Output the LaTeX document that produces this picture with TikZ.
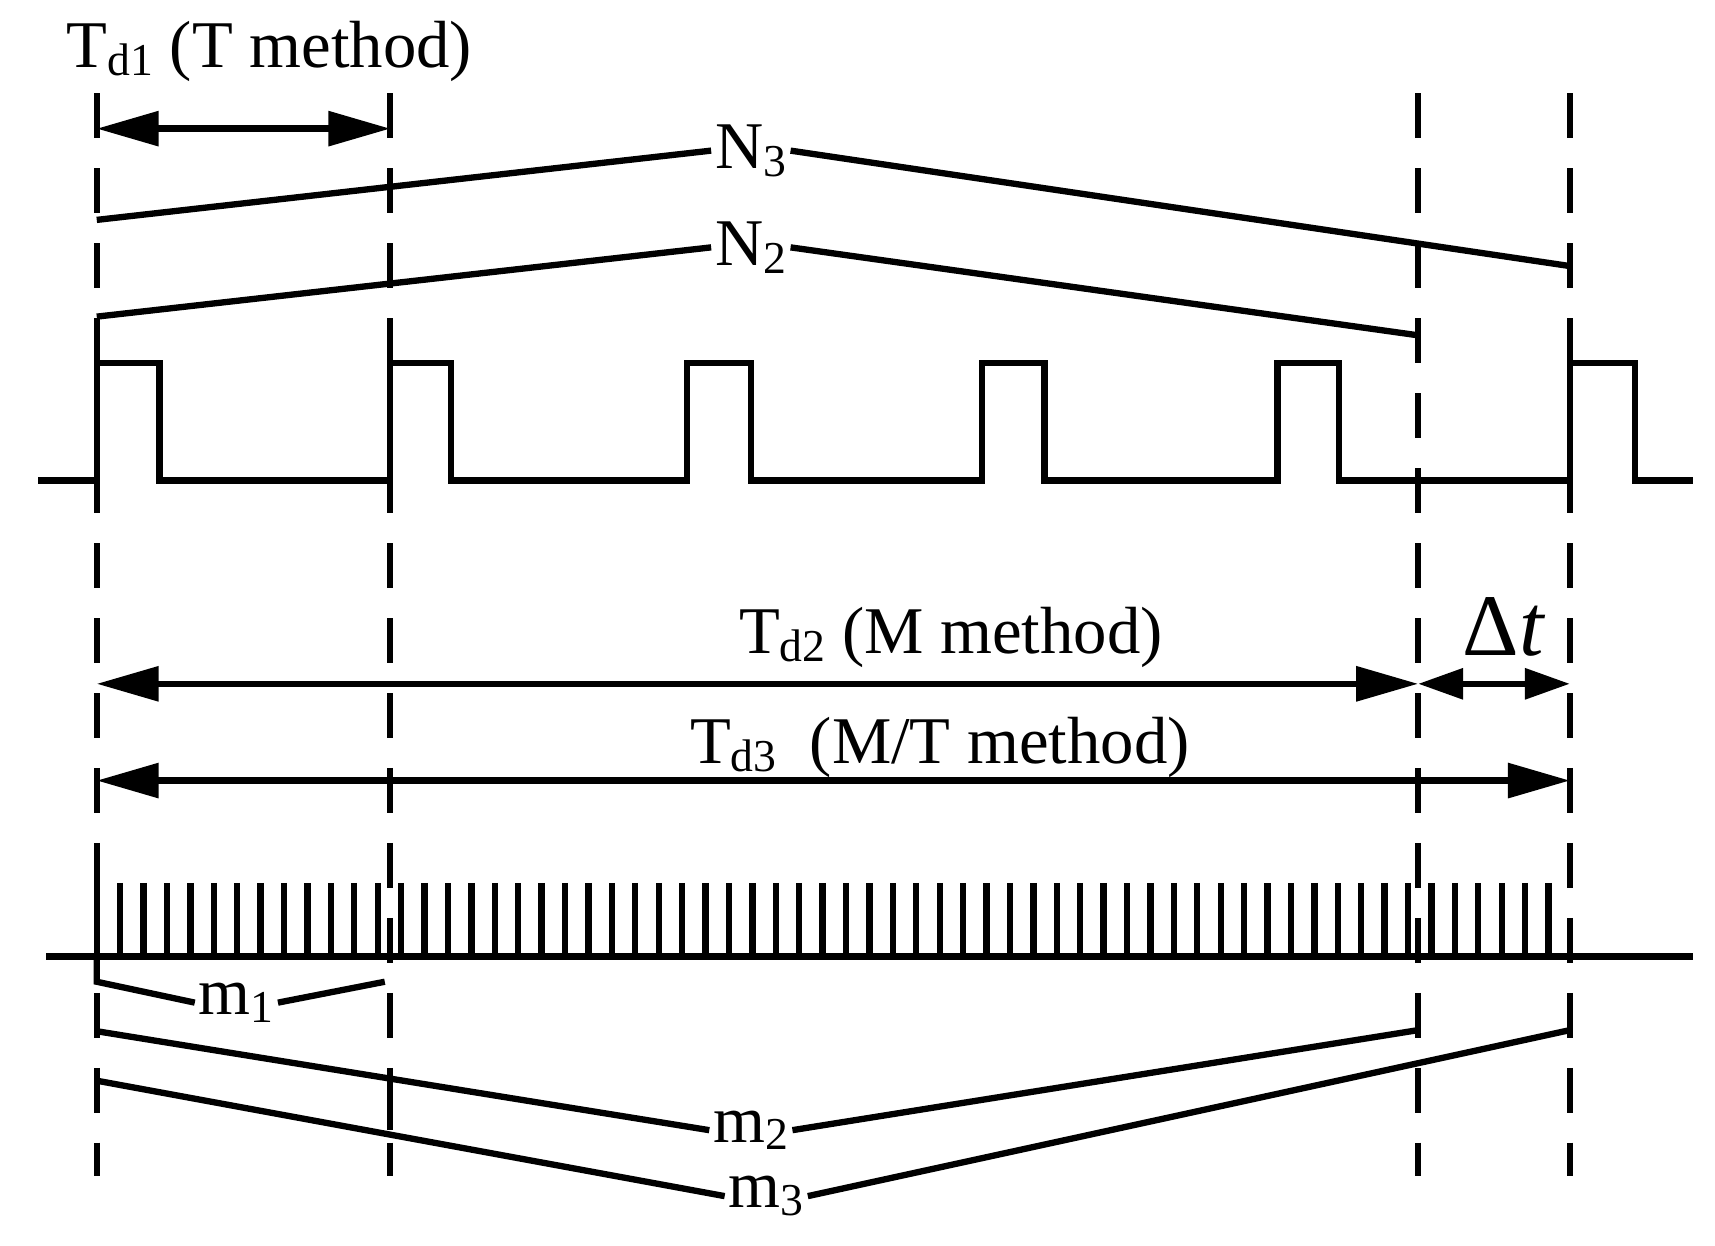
\documentclass[tikz,border=0pt]{standalone}
\usepackage{fontspec}
\setmainfont{Liberation Serif}
\usetikzlibrary{arrows.meta}
\newcommand{\sbs}[1]{\raisebox{-0.25ex}{\fontsize{13}{14}\selectfont #1}}
\begin{document}
\begin{tikzpicture}[x=0.011cm,y=-0.011cm,
  ln/.style={line width=1.8pt},
  dsh/.style={line width=1.8pt,dash pattern=on 0.45cm off 0.3cm},
  arr/.style={line width=1.8pt,{Triangle[length=0.62cm,width=0.34cm]}-{Triangle[length=0.62cm,width=0.34cm]}},
  lbl/.style={font=\fontsize{19}{22}\selectfont,inner sep=1pt}]
\useasboundingbox (0,0) rectangle (1560,1133);
% dashed verticals
\foreach \x/\n in {88/A,355/B,1290/C,1428/D}{
  \coordinate (\n t) at (\x,85); \coordinate (\n b) at (\x,1070);
  \draw[dsh] (\n t) -- (\n b);}
% pulse train
\draw[ln] (35,437) -- (88,437) -- (88,330) -- (145,330) -- (145,437) -- (355,437) -- (355,330) -- (410,330) -- (410,437)
  -- (625,437) -- (625,330) -- (683,330) -- (683,437) -- (893,437) -- (893,330) -- (950,330) -- (950,437)
  -- (1162,437) -- (1162,330) -- (1218,330) -- (1218,437) -- (1428,437) -- (1428,330) -- (1487,330) -- (1487,437) -- (1540,437);
% Td1
\node[lbl] (td1) at (245,47) {T\sbs{d1} (T method)};
\coordinate (a1) at (88,117); \coordinate (b1) at (355,117);
\draw[arr] (a1) -- (b1);
% N3, N2
\node[lbl] (n3) at (683,137) {N\sbs{3}};
\coordinate (n3a) at (88,200); \coordinate (n3b) at (1428,242);
\draw[ln] (n3a) -- (n3.west); \draw[ln] (n3.east) -- (n3b);
\draw[ln] (1428,228) -- (1428,256);
\node[lbl] (n2) at (683,225) {N\sbs{2}};
\coordinate (n2a) at (88,288); \coordinate (n2b) at (1290,305);
\draw[ln] (n2a) -- (n2.west); \draw[ln] (n2.east) -- (n2b);
\draw[ln] (1290,290) -- (1290,320);
% Td2, dt
\node[lbl] (td2) at (865,580) {T\sbs{d2} (M method)};
\coordinate (a2) at (88,622); \coordinate (b2) at (1290,622); \coordinate (c2) at (1428,622);
\draw[arr] (a2) -- (b2);
\draw[line width=1.8pt,{Triangle[length=0.45cm,width=0.3cm]}-{Triangle[length=0.45cm,width=0.3cm]}] (b2) -- (c2);
\node[lbl,font=\fontsize{25}{27}\selectfont] (dt) at (1368,570) {Δ\textit{t}};
% Td3
\node[lbl] (td3) at (855,680) {T\sbs{d3}\ \ (M/T method)};
\coordinate (a3) at (88,710); \coordinate (c3) at (1428,710);
\draw[arr] (a3) -- (c3);
% clock
\draw[ln] (42,870) -- (1540,870);
\foreach \k in {0,...,62}{ \draw[ln] (88+\k*21.3,803) -- (88+\k*21.3,870); }
% m1
\node[lbl] (m1) at (215,912) {m\sbs{1}};
\coordinate (m1a) at (88,893); \coordinate (m1b) at (350,893);
\draw[ln] (88,870) -- (m1a) -- (m1.west); \draw[ln] (m1.east) -- (m1b);
% m2
\node[lbl] (m2) at (683,1028) {m\sbs{2}};
\coordinate (m2a) at (88,938); \coordinate (m2b) at (1290,937);
\draw[ln] (m2a) -- (m2.west); \draw[ln] (m2.east) -- (m2b);
% m3
\node[lbl] (m3) at (697,1088) {m\sbs{3}};
\coordinate (m3a) at (88,983); \coordinate (m3b) at (1428,937);
\draw[ln] (m3a) -- (m3.west); \draw[ln] (m3.east) -- (m3b);
\draw[ln] (355,975) -- (355,1028);
\end{tikzpicture}
\end{document}
